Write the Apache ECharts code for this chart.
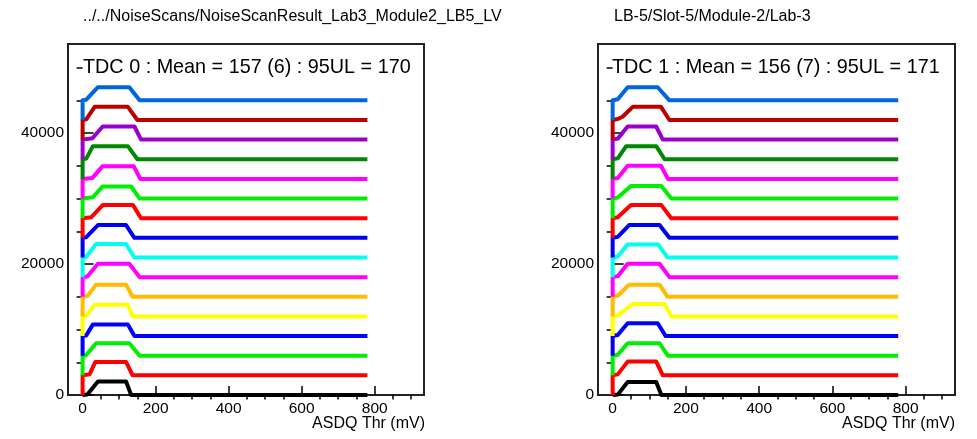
<!DOCTYPE html>
<html><head><meta charset="utf-8">
<script src="https://cdn.jsdelivr.net/npm/echarts@6/dist/echarts.min.js"></script>
<style>html,body{margin:0;padding:0;background:#fff}#c{width:977px;height:439px}</style>
</head><body><div id="c"></div>
<script>
// ---- data ----
const offsets = [0,3000,6000,9000,12000,15000,18000,21000,24000,27000,30000,33000,36000,39000,42000,45000];
const titleLeft = "../../NoiseScans/NoiseScanResult_Lab3_Module2_LB5_LV";
const titleRight = "LB-5/Slot-5/Module-2/Lab-3";
const legendLeft = "TDC 0 : Mean = 157 (6) : 95UL = 170";
const legendRight = "TDC 1 : Mean = 156 (7) : 95UL = 171";
const xAxisTitle = "ASDQ Thr (mV)";
const xTickValues = [0,200,400,600,800];
const xMinorTickValues = [50,100,150,250,300,350,450,500,550,650,700,750,850,900];
const yTickValues = [0,20000,40000];
const yMinorTickValues = [5000,10000,15000,25000,30000,35000,45000,50000];

// each trace: [threshold, counts relative to its offset]
const leftTraces = [
  [[0,0],[13,60],[42,2050],[119,2050],[133,0],[780,0]],
  [[0,-3000],[0,0],[19,150],[35,2050],[119,2050],[137,0],[780,0]],
  [[0,-3000],[0,0],[10,100],[37,1900],[128,1900],[156,0],[780,0]],
  [[0,-3000],[0,0],[10,100],[28,1750],[124,1750],[142,0],[780,0]],
  [[0,-3000],[0,0],[10,100],[33,1800],[124,1800],[137,0],[780,0]],
  [[0,-3000],[0,0],[13,100],[37,1850],[119,1850],[137,0],[780,0]],
  [[0,-3000],[0,0],[13,100],[42,2050],[128,2050],[156,0],[780,0]],
  [[0,-3000],[0,0],[10,100],[37,2050],[119,2050],[142,0],[780,0]],
  [[0,-3000],[0,0],[10,100],[42,1950],[119,1950],[142,0],[780,0]],
  [[0,-3000],[0,0],[24,150],[55,2000],[138,2000],[160,0],[780,0]],
  [[0,-3000],[0,0],[28,200],[55,1850],[133,1850],[156,0],[780,0]],
  [[0,-3000],[0,0],[27,150],[55,1950],[140,1950],[158,0],[780,0]],
  [[0,-3000],[0,0],[10,100],[28,2000],[124,2000],[150,0],[780,0]],
  [[0,-3000],[0,0],[27,200],[55,2000],[142,2000],[160,0],[780,0]],
  [[0,-3000],[0,0],[10,100],[33,2000],[124,2000],[150,0],[780,0]],
  [[0,-3000],[0,0],[10,100],[42,2000],[128,2000],[156,0],[780,0]]
];
const rightTraces = [
  [[0,0],[14,60],[41,2000],[119,2000],[133,0],[780,0]],
  [[0,-3000],[0,0],[14,150],[41,2100],[119,2100],[137,0],[780,0]],
  [[0,-3000],[0,0],[14,150],[41,1900],[128,1900],[151,0],[780,0]],
  [[0,-3000],[0,0],[14,150],[41,1950],[123,1950],[145,0],[780,0]],
  [[0,-3000],[0,0],[14,150],[55,1900],[142,1900],[160,0],[780,0]],
  [[0,-3000],[0,0],[14,150],[45,1850],[128,1850],[150,0],[780,0]],
  [[0,-3000],[0,0],[14,150],[41,2050],[128,2050],[155,0],[780,0]],
  [[0,-3000],[0,0],[14,150],[41,2000],[124,2000],[150,0],[780,0]],
  [[0,-3000],[0,0],[14,150],[45,1950],[128,1950],[155,0],[780,0]],
  [[0,-3000],[0,0],[14,150],[50,2000],[133,2000],[160,0],[780,0]],
  [[0,-3000],[0,0],[14,150],[50,1900],[133,1900],[160,0],[780,0]],
  [[0,-3000],[0,0],[14,150],[41,2000],[132,2000],[151,0],[780,0]],
  [[0,-3000],[0,0],[14,150],[37,2000],[119,2000],[142,0],[780,0]],
  [[0,-3000],[0,0],[14,150],[41,2000],[119,2000],[137,0],[780,0]],
  [[0,-3000],[0,0],[14,150],[27,500],[55,2000],[132,2000],[155,0],[780,0]],
  [[0,-3000],[0,0],[14,150],[41,2000],[123,2000],[155,0],[780,0]]
];

// ---- styles ----
const colors = ['#000000','#ff0000','#00ee00','#0000ff','#ffff00','#ffbb00','#ff00ff','#00ffee',
                '#0000ee','#ff0000','#00ee00','#ff00ff','#008800','#9900cc','#bb0000','#0066dd'];
const FONT = 'Liberation Sans, Arial, Helvetica, sans-serif';

const grids = [
  {left:68, top:44, width:356, height:351},
  {left:598, top:44, width:357, height:351}
];

const xAxes = [], yAxes = [];
grids.forEach((g, gi) => {
  xAxes.push({
    type:'value', gridIndex:gi, min:-40, max:935,
    axisLine:{show:false}, splitLine:{show:false},
    axisTick:{show:true, inside:true, length:9, customValues:xTickValues, lineStyle:{color:'#000', width:1.5}},
    axisLabel:{show:true, customValues:xTickValues, margin:6, fontSize:15.5, color:'#000', fontFamily:FONT,
               formatter: v => String(v)}
  });
  xAxes.push({
    type:'value', gridIndex:gi, min:-40, max:935,
    axisLine:{show:false}, splitLine:{show:false},
    axisTick:{show:true, inside:true, length:4.5, customValues:xMinorTickValues, lineStyle:{color:'#000', width:1.5}},
    axisLabel:{show:false}
  });
  yAxes.push({
    type:'value', gridIndex:gi, min:0, max:53600,
    axisLine:{show:false}, splitLine:{show:false},
    axisTick:{show:true, inside:true, length:11, customValues:yTickValues, lineStyle:{color:'#000', width:1.5}},
    axisLabel:{show:true, customValues:yTickValues, margin:4, fontSize:15.5, color:'#000', fontFamily:FONT,
               formatter: v => String(v)}
  });
  yAxes.push({
    type:'value', gridIndex:gi, min:0, max:53600,
    axisLine:{show:false}, splitLine:{show:false},
    axisTick:{show:true, inside:true, length:6, customValues:yMinorTickValues, lineStyle:{color:'#000', width:1.5}},
    axisLabel:{show:false}
  });
});

const series = [];
[leftTraces, rightTraces].forEach((traces, gi) => {
  traces.forEach((pts, i) => {
    series.push({
      type:'line', xAxisIndex:gi*2, yAxisIndex:gi*2,
      data: pts.map(p => [p[0], p[1] + offsets[i]]),
      showSymbol:false, symbol:'none', clip:false, animation:false,
      lineStyle:{color:colors[i], width:4, join:'round', cap:'butt'},
      z: 2
    });
  });
});

const titles = [
  {text:titleLeft, left:83, top:9, textStyle:{fontSize:16, fontWeight:'normal', color:'#000', fontFamily:FONT}},
  {text:titleRight, left:614, top:9, textStyle:{fontSize:16, fontWeight:'normal', color:'#000', fontFamily:FONT}},
  {text:legendLeft, left:83, top:58, textStyle:{fontSize:19.8, fontWeight:'normal', color:'#000', fontFamily:FONT}},
  {text:legendRight, left:612, top:58, textStyle:{fontSize:19.8, fontWeight:'normal', color:'#000', fontFamily:FONT}},
  {text:xAxisTitle, right:977-425, top:416, textStyle:{fontSize:16, fontWeight:'normal', color:'#000', fontFamily:FONT}},
  {text:xAxisTitle, right:977-955, top:416, textStyle:{fontSize:16, fontWeight:'normal', color:'#000', fontFamily:FONT}}
].map(t => Object.assign({padding:0}, t));

const chart = echarts.init(document.getElementById('c'), null, {renderer:'canvas'});
chart.setOption({
  animation:false,
  backgroundColor:'#fff',
  title: titles,
  grid: grids.map(g => Object.assign({show:true, borderColor:'#222', borderWidth:2, backgroundColor:'transparent', containLabel:false}, g)),
  xAxis: xAxes,
  yAxis: yAxes,
  series: series
});
</script></body></html>
